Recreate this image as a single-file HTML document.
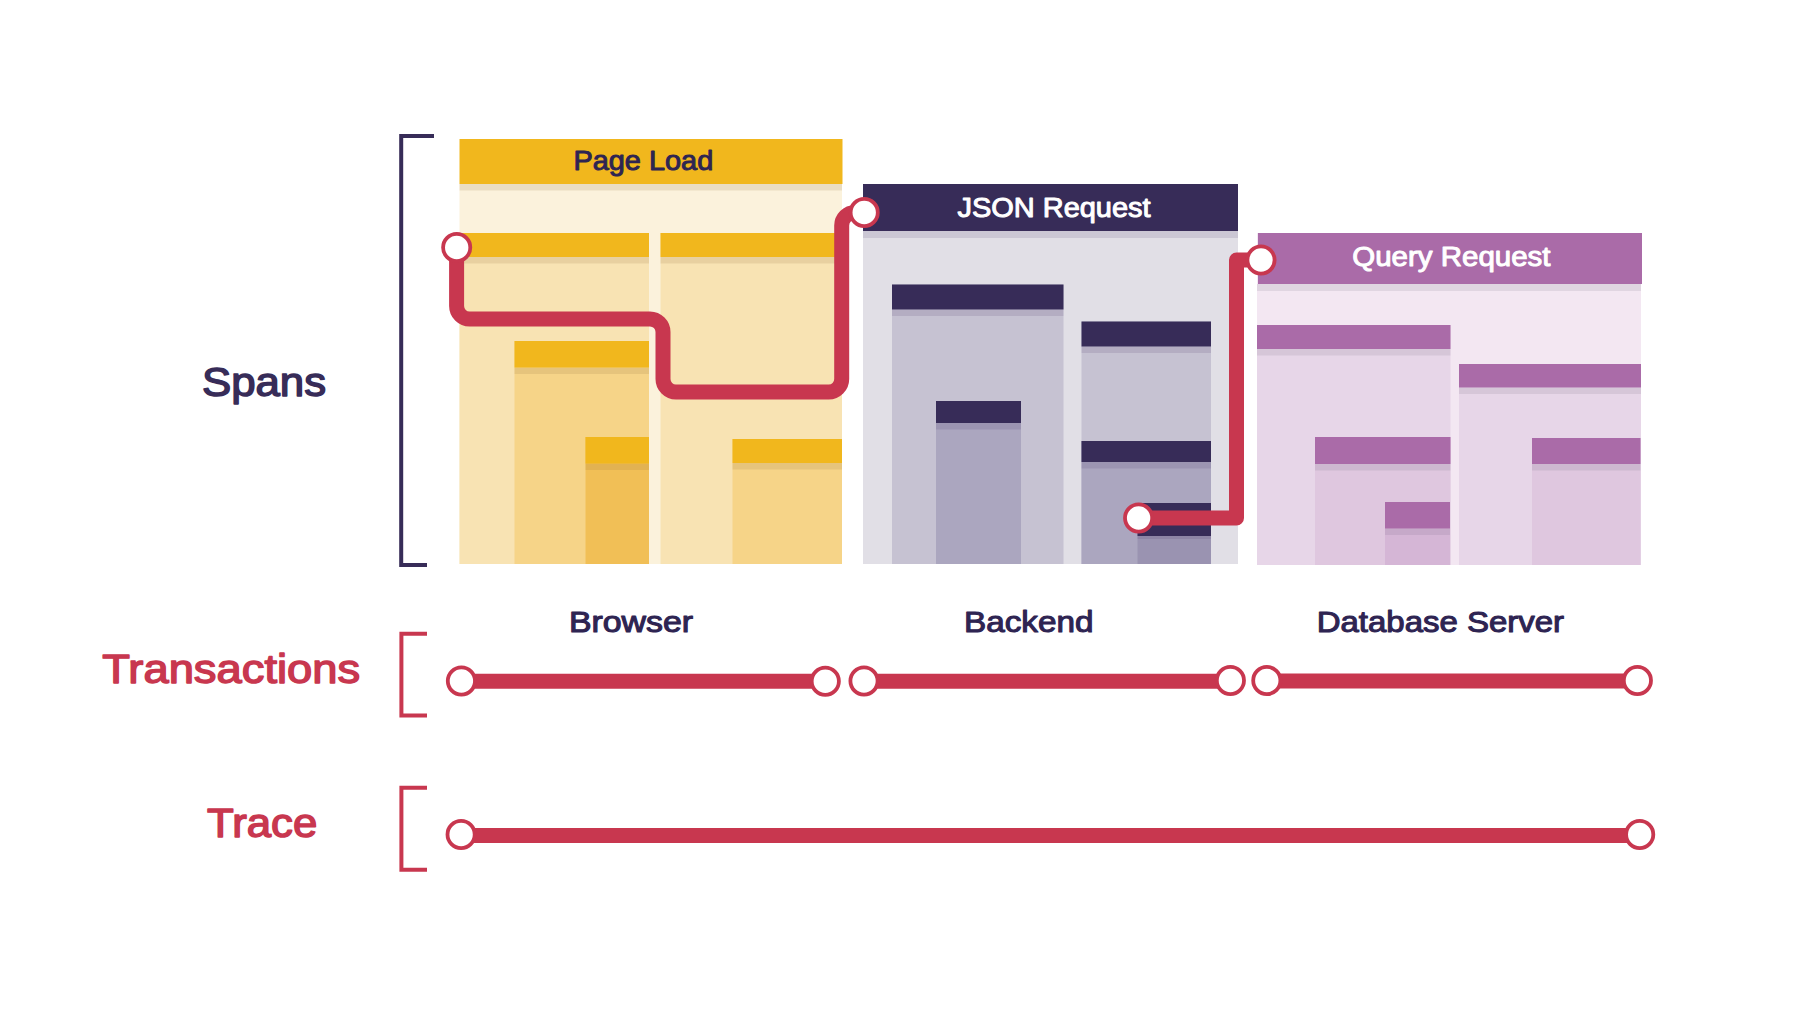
<!DOCTYPE html>
<html><head><meta charset="utf-8">
<style>
html,body{margin:0;padding:0;background:#fff;}
body{width:1800px;height:1031px;overflow:hidden;}
svg{display:block;}
text{font-family:"Liberation Sans",sans-serif;font-weight:normal;}
</style></head>
<body>
<svg width="1800" height="1031" viewBox="0 0 1800 1031">
<rect width="1800" height="1031" fill="#fff"/>
<rect x="459.5" y="184" width="382.5" height="380" fill="#FBF2DC"/>
<rect x="459.5" y="184" width="382.5" height="6.5" fill="rgba(150,110,60,0.16)"/>
<rect x="459.5" y="139" width="383.0" height="45" fill="#F1B71D"/>
<rect x="459.5" y="233" width="189.5" height="331" fill="#F8E3B3"/>
<rect x="459.5" y="257" width="189.5" height="6.5" fill="rgba(150,110,60,0.16)"/>
<rect x="459.5" y="233" width="189.5" height="24" fill="#F1B71D"/>
<rect x="514.5" y="341" width="134.5" height="223" fill="#F6D488"/>
<rect x="514.5" y="367.5" width="134.5" height="6.5" fill="rgba(150,110,60,0.16)"/>
<rect x="514.5" y="341" width="134.5" height="26.5" fill="#F1B71D"/>
<rect x="585.5" y="437" width="63.5" height="127" fill="#F1BF56"/>
<rect x="585.5" y="463.5" width="63.5" height="6.5" fill="rgba(150,110,60,0.16)"/>
<rect x="585.5" y="437" width="63.5" height="26.5" fill="#F1B71D"/>
<rect x="660.5" y="233" width="181.5" height="331" fill="#F8E3B3"/>
<rect x="660.5" y="257" width="181.5" height="6.5" fill="rgba(150,110,60,0.16)"/>
<rect x="660.5" y="233" width="181.5" height="24" fill="#F1B71D"/>
<rect x="732.5" y="439" width="109.5" height="125" fill="#F6D488"/>
<rect x="732.5" y="463" width="109.5" height="6.5" fill="rgba(150,110,60,0.16)"/>
<rect x="732.5" y="439" width="109.5" height="24" fill="#F1B71D"/>
<rect x="863" y="184" width="375" height="380" fill="#E1DFE6"/>
<rect x="863" y="231" width="375" height="7" fill="rgba(60,40,90,0.13)"/>
<rect x="863" y="184" width="375" height="47" fill="#372C58"/>
<rect x="892" y="284.5" width="171.5" height="279.5" fill="#C6C2D2"/>
<rect x="892" y="309.5" width="171.5" height="6.5" fill="rgba(60,40,90,0.13)"/>
<rect x="892" y="284.5" width="171.5" height="25.0" fill="#372C58"/>
<rect x="936" y="401" width="85" height="163" fill="#ABA6BF"/>
<rect x="936" y="423" width="85" height="6.5" fill="rgba(60,40,90,0.13)"/>
<rect x="936" y="401" width="85" height="22" fill="#372C58"/>
<rect x="1081.5" y="321.5" width="129.5" height="242.5" fill="#C6C2D2"/>
<rect x="1081.5" y="346.5" width="129.5" height="6.5" fill="rgba(60,40,90,0.13)"/>
<rect x="1081.5" y="321.5" width="129.5" height="25.0" fill="#372C58"/>
<rect x="1081.5" y="441" width="129.5" height="123" fill="#ABA6BF"/>
<rect x="1081.5" y="462" width="129.5" height="6.5" fill="rgba(60,40,90,0.13)"/>
<rect x="1081.5" y="441" width="129.5" height="21" fill="#372C58"/>
<rect x="1137.5" y="503" width="73.5" height="61" fill="#9A93B1"/>
<rect x="1137.5" y="536" width="73.5" height="3" fill="rgba(60,40,90,0.13)"/>
<rect x="1137.5" y="503" width="73.5" height="33" fill="#372C58"/>
<rect x="1257" y="233" width="384" height="332" fill="#F3E7F2"/>
<rect x="1257" y="284" width="384" height="7" fill="rgba(90,80,110,0.12)"/>
<rect x="1258" y="233" width="384" height="51" fill="#AA6BA8"/>
<rect x="1257" y="325" width="193.5" height="240" fill="#E7D6E8"/>
<rect x="1257" y="349" width="193.5" height="6.5" fill="rgba(90,80,110,0.12)"/>
<rect x="1257" y="325" width="193.5" height="24" fill="#AA6BA8"/>
<rect x="1315" y="437" width="135.5" height="128" fill="#DFC7DF"/>
<rect x="1315" y="464" width="135.5" height="6.5" fill="rgba(90,80,110,0.12)"/>
<rect x="1315" y="437" width="135.5" height="27" fill="#AA6BA8"/>
<rect x="1385" y="502" width="65" height="63" fill="#D5B6D6"/>
<rect x="1385" y="528.5" width="65" height="6.5" fill="rgba(90,80,110,0.12)"/>
<rect x="1385" y="502" width="65" height="26.5" fill="#AA6BA8"/>
<rect x="1459" y="364" width="182" height="201" fill="#E7D6E8"/>
<rect x="1459" y="387.5" width="182" height="6.5" fill="rgba(90,80,110,0.12)"/>
<rect x="1459" y="364" width="182" height="23.5" fill="#AA6BA8"/>
<rect x="1532" y="438" width="108.5" height="127" fill="#DFC7DF"/>
<rect x="1532" y="464" width="108.5" height="6.5" fill="rgba(90,80,110,0.12)"/>
<rect x="1532" y="438" width="108.5" height="26" fill="#AA6BA8"/>
<path d="M434,136 H401.2 V565 H427" fill="none" stroke="#372C58" stroke-width="4"/>
<path d="M427,633.8 H401.4 V715.6 H427" fill="none" stroke="#C8374F" stroke-width="4"/>
<path d="M427,787.8 H401.4 V869.8 H427" fill="none" stroke="#C8374F" stroke-width="4"/>
<path d="M456.6,247.5 V306 A13,13 0 0 0 469.6,319 H650 A13,13 0 0 1 663,332 V379 A13,13 0 0 0 676,392 H828.7 A13,13 0 0 0 841.7,379 V225.5 A13,13 0 0 1 854.7,212.5 H864" fill="none" stroke="#C8374F" stroke-width="15" stroke-linejoin="round"/>
<path d="M1138.6,518 H1236.5 V260 H1261" fill="none" stroke="#C8374F" stroke-width="15" stroke-linejoin="round"/>
<path d="M461.4,681.3 H825.3" stroke="#C8374F" stroke-width="15"/>
<path d="M864,681.3 H1230.4" stroke="#C8374F" stroke-width="15"/>
<path d="M1266.8,681 H1637.4" stroke="#C8374F" stroke-width="15"/>
<path d="M461.1,835.5 H1639.7" stroke="#C8374F" stroke-width="15"/>
<circle cx="456.7" cy="247.5" r="13.6" fill="#fff" stroke="#C8374F" stroke-width="3.8"/>
<circle cx="864.2" cy="212.5" r="13.6" fill="#fff" stroke="#C8374F" stroke-width="3.8"/>
<circle cx="1138.6" cy="518" r="13.6" fill="#fff" stroke="#C8374F" stroke-width="3.8"/>
<circle cx="1261" cy="260" r="13.6" fill="#fff" stroke="#C8374F" stroke-width="3.8"/>
<circle cx="461.4" cy="681" r="13.6" fill="#fff" stroke="#C8374F" stroke-width="3.8"/>
<circle cx="825.3" cy="681.2" r="13.6" fill="#fff" stroke="#C8374F" stroke-width="3.8"/>
<circle cx="864" cy="681" r="13.6" fill="#fff" stroke="#C8374F" stroke-width="3.8"/>
<circle cx="1230.4" cy="680.5" r="13.6" fill="#fff" stroke="#C8374F" stroke-width="3.8"/>
<circle cx="1266.8" cy="680.5" r="13.6" fill="#fff" stroke="#C8374F" stroke-width="3.8"/>
<circle cx="1637.4" cy="680.5" r="13.6" fill="#fff" stroke="#C8374F" stroke-width="3.8"/>
<circle cx="461.1" cy="834.5" r="13.6" fill="#fff" stroke="#C8374F" stroke-width="3.8"/>
<circle cx="1639.7" cy="834.5" r="13.6" fill="#fff" stroke="#C8374F" stroke-width="3.8"/>
<text x="573.46" y="170" font-size="27.5" fill="#2E2452" stroke="#2E2452" stroke-width="0.99" stroke-linejoin="round" textLength="139.78" lengthAdjust="spacingAndGlyphs">Page Load</text>
<text x="957.53" y="217" font-size="27.5" fill="#FFFFFF" stroke="#FFFFFF" stroke-width="0.99" stroke-linejoin="round" textLength="193.01" lengthAdjust="spacingAndGlyphs">JSON Request</text>
<text x="1352.3" y="265.9" font-size="27.5" fill="#FFFFFF" stroke="#FFFFFF" stroke-width="0.99" stroke-linejoin="round" textLength="198.18" lengthAdjust="spacingAndGlyphs">Query Request</text>
<text x="201.97" y="396" font-size="40.5" fill="#372C58" stroke="#372C58" stroke-width="1.46" stroke-linejoin="round" textLength="124.11" lengthAdjust="spacingAndGlyphs">Spans</text>
<text x="102.33" y="682.8" font-size="40" fill="#C8374F" stroke="#C8374F" stroke-width="1.44" stroke-linejoin="round" textLength="257.79" lengthAdjust="spacingAndGlyphs">Transactions</text>
<text x="207.05" y="836.9" font-size="40" fill="#C8374F" stroke="#C8374F" stroke-width="1.44" stroke-linejoin="round" textLength="110.29" lengthAdjust="spacingAndGlyphs">Trace</text>
<text x="568.9" y="631.8" font-size="30" fill="#2E2452" stroke="#2E2452" stroke-width="1.08" stroke-linejoin="round" textLength="124.24" lengthAdjust="spacingAndGlyphs">Browser</text>
<text x="963.95" y="631.8" font-size="30" fill="#2E2452" stroke="#2E2452" stroke-width="1.08" stroke-linejoin="round" textLength="129.49" lengthAdjust="spacingAndGlyphs">Backend</text>
<text x="1316.7" y="631.8" font-size="30" fill="#2E2452" stroke="#2E2452" stroke-width="1.08" stroke-linejoin="round" textLength="247.39" lengthAdjust="spacingAndGlyphs">Database Server</text>
</svg>
</body></html>
